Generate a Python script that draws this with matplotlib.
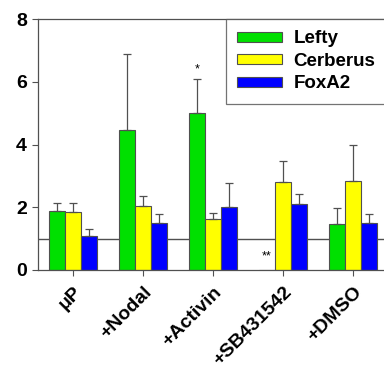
import numpy as np
from matplotlib import pyplot as plt

plt.rcParams['font.family'] = ['Liberation Sans', 'DejaVu Sans']
plt.rcParams['font.weight'] = 'bold'

# groups and series
groups = ['\u03bcP', '+Nodal', '+Activin', '+SB431542', '+DMSO']
lefty = [1.89, 4.47, 5.01, 0.0, 1.46]
lefty_err = [0.23, 2.43, 1.08, 0.0, 0.52]
cerberus = [1.86, 2.05, 1.61, 2.81, 2.84]
cerberus_err = [0.28, 0.32, 0.20, 0.68, 1.13]
foxa2 = [1.09, 1.49, 2.02, 2.11, 1.51]
foxa2_err = [0.21, 0.28, 0.74, 0.30, 0.26]

fig = plt.figure(figsize=(3.84, 3.82), dpi=100)
ax = fig.add_axes([38 / 384, 1 - 270 / 382, 350 / 384, 251 / 382])

x = np.arange(len(groups))
w = 0.233
edge = '#505050'
ekw = dict(ecolor=edge, elinewidth=0.9, capsize=2.6, capthick=0.9)

series = [(lefty, lefty_err, '#00e000', 'Lefty'),
          (cerberus, cerberus_err, '#ffff00', 'Cerberus'),
          (foxa2, foxa2_err, '#0000ff', 'FoxA2')]

# reference line at 1, behind the bars
ax.axhline(1, color=edge, lw=1.0, zorder=1)

for i, (vals, errs, col, name) in enumerate(series):
    pos = x + (i - 1) * w
    ax.bar(pos, vals, w, color=col, edgecolor=edge, linewidth=0.8,
           label=name, zorder=2)
    for p, v, e in zip(pos, vals, errs):
        if v > 0:
            ax.errorbar(p, v, yerr=[[0], [e]], fmt='none', zorder=3, **ekw)

# significance marks
ax.text(x[2] - w, lefty[2] + lefty_err[2] + 0.12, '*', ha='center',
        va='bottom', fontsize=9, fontweight='normal')
ax.text(x[3] - w, 0.25, '**', ha='center', va='bottom', fontsize=9,
        fontweight='normal')

ax.set_xlim(-0.5, 4.5)
ax.set_ylim(0, 8)
ax.set_yticks([0, 2, 4, 6, 8])
ax.set_xticks(x)
ax.set_xticklabels(groups, rotation=45, ha='right', rotation_mode='anchor')
ax.tick_params(labelsize=14, length=4, width=0.8, color=edge, pad=4)
ax.tick_params(axis='x', pad=6)
for s in ax.spines.values():
    s.set_color(edge)
    s.set_linewidth(0.9)

leg = ax.legend(loc='upper left', bbox_to_anchor=(226 / 384, 1 - 19 / 382),
                bbox_transform=fig.transFigure, borderaxespad=0,
                fancybox=False, edgecolor=edge, fontsize=13.5,
                handlelength=2.4, handleheight=0.45, labelspacing=0.3,
                handletextpad=0.6, borderpad=0.6)
leg.get_frame().set_linewidth(0.9)

fig.savefig('out.png', dpi=100)
